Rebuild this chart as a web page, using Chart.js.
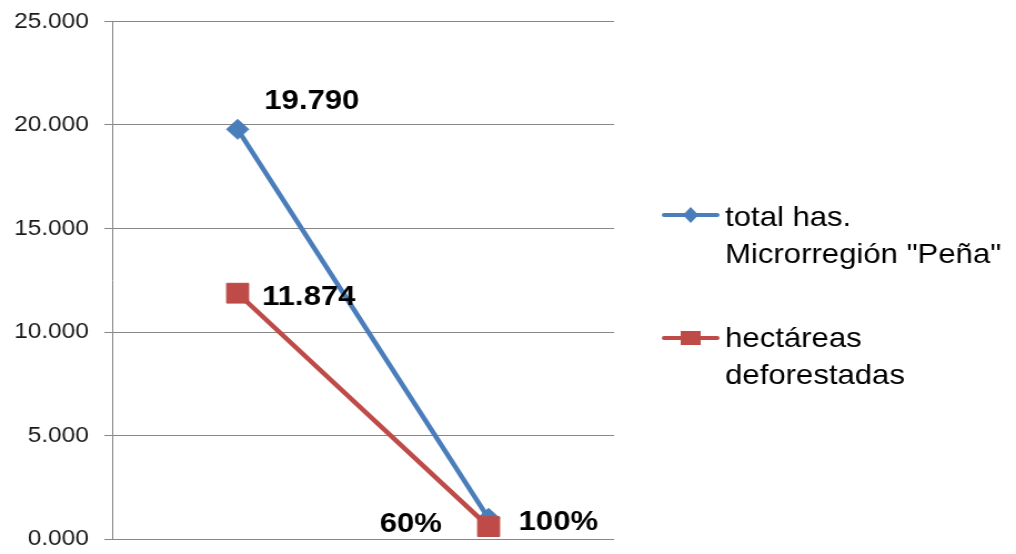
<!DOCTYPE html>
<html>
<head>
<meta charset="utf-8">
<script src="https://cdn.jsdelivr.net/npm/chart.js@4.4.1/dist/chart.umd.min.js"></script>
<style>
  html, body { margin: 0; padding: 0; background: #ffffff; overflow: hidden; }
  #wrap { width: 915px; height: 554px; transform: scaleX(1.1104); transform-origin: 0 0; }
</style>
</head>
<body>
<div id="wrap"><canvas id="c" width="915" height="554"></canvas></div>
<script>
// ---- data ----
const categories = ["", ""];
const seriesNames = [["total has.", "Microrregión \"Peña\""], ["hectáreas", "deforestadas"]];
const totalHas = [19.79, 1.0];
const hectareasDeforestadas = [11.874, 0.6];
const totalLabels = ["19.790", "100%"];
const deforestLabels = ["11.874", "60%"];
const yTicks = { min: 0, max: 25, step: 5 };

const BLUE = '#4A7EBB';
const RED = '#BE4B48';
const GRID = '#878787';

const labelPlacement = [
  [{ dx: 24, dy: -20, align: 'left' }, { dx: 27, dy: 12, align: 'left' }],
  [{ dx: 22, dy: 12, align: 'left' }, { dx: -42, dy: 5, align: 'right' }]
];
const labelTexts = [totalLabels, deforestLabels];

const dataLabelPlugin = {
  id: 'dataLabelPlugin',
  afterDatasetsDraw(chart) {
    const ctx = chart.ctx;
    ctx.save();
    ctx.font = 'bold 28px "Liberation Sans", Arial, sans-serif';
    ctx.fillStyle = '#000000';
    ctx.textBaseline = 'alphabetic';
    chart.data.datasets.forEach((ds, di) => {
      const meta = chart.getDatasetMeta(di);
      meta.data.forEach((pt, i) => {
        const p = labelPlacement[di][i];
        ctx.textAlign = p.align;
        ctx.fillText(labelTexts[di][i], pt.x + p.dx, pt.y + p.dy);
      });
    });
    ctx.restore();
  }
};

const legendPlugin = {
  id: 'customLegend',
  afterDraw(chart) {
    const ctx = chart.ctx;
    ctx.save();
    const items = [
      { lineY: 215, baseline: 226, ds: 0 },
      { lineY: 338, baseline: 347, ds: 1 }
    ];
    items.forEach(it => {
      const ds = chart.data.datasets[it.ds];
      ctx.strokeStyle = ds.borderColor;
      ctx.lineWidth = 4;
      ctx.lineCap = 'round';
      ctx.beginPath();
      ctx.moveTo(598, it.lineY);
      ctx.lineTo(646, it.lineY);
      ctx.stroke();
      ctx.fillStyle = ds.backgroundColor;
      const cx = 622;
      if (ds.pointStyle === 'rectRot') {
        ctx.beginPath();
        ctx.moveTo(cx, it.lineY - 8);
        ctx.lineTo(cx + 7, it.lineY);
        ctx.lineTo(cx, it.lineY + 8);
        ctx.lineTo(cx - 7, it.lineY);
        ctx.closePath();
        ctx.fill();
      } else {
        ctx.fillRect(cx - 9, it.lineY - 7, 18, 14);
      }
      ctx.fillStyle = '#000000';
      ctx.font = '28px "Liberation Sans", Arial, sans-serif';
      ctx.textAlign = 'left';
      ctx.textBaseline = 'alphabetic';
      seriesNames[it.ds].forEach((t, k) => {
        ctx.fillText(t, 653, it.baseline + k * 37);
      });
    });
    ctx.restore();
  }
};

new Chart(document.getElementById('c'), {
  type: 'line',
  data: {
    labels: categories,
    datasets: [
      {
        label: seriesNames[0].join(' '),
        data: totalHas,
        borderColor: BLUE,
        backgroundColor: BLUE,
        borderWidth: 4.5,
        pointStyle: 'rectRot',
        pointRadius: 10,
        pointBorderWidth: 1,
        pointBackgroundColor: BLUE,
        pointBorderColor: BLUE,
        tension: 0,
        order: 1
      },
      {
        label: seriesNames[1].join(' '),
        data: hectareasDeforestadas,
        borderColor: RED,
        backgroundColor: RED,
        borderWidth: 4.5,
        pointStyle: 'rect',
        pointRadius: 14,
        pointBorderWidth: 1,
        pointBackgroundColor: RED,
        pointBorderColor: RED,
        tension: 0,
        order: 0
      }
    ]
  },
  options: {
    responsive: false,
    animation: false,
    devicePixelRatio: 1,
    layout: { padding: { top: 21.5, bottom: 14, left: 0, right: 362 } },
    plugins: { legend: { display: false }, tooltip: { enabled: false } },
    scales: {
      x: {
        display: false,
        offset: true
      },
      y: {
        min: yTicks.min,
        max: yTicks.max,
        afterFit(scale) {
          scale.width = 101;
          scale.paddingTop = 0;
          scale.paddingBottom = 0;
        },
        ticks: {
          stepSize: yTicks.step,
          padding: 14,
          color: '#1a1a1a',
          font: { family: '"Liberation Sans", Arial, sans-serif', size: 22 },
          callback: v => Number(v).toFixed(3)
        },
        grid: { color: GRID, lineWidth: 1, tickLength: 7, drawTicks: true },
        border: { color: GRID, width: 1 }
      }
    }
  },
  plugins: [dataLabelPlugin, legendPlugin]
});
</script>
</body>
</html>
